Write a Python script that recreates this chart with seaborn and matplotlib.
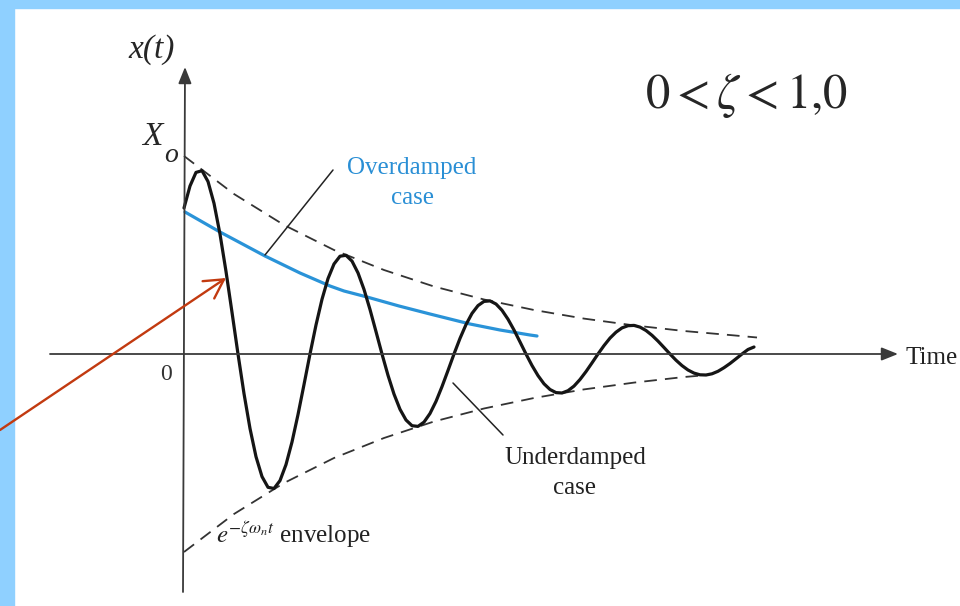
import matplotlib
matplotlib.use("Agg")
import matplotlib.pyplot as plt
import seaborn as sns
from matplotlib.patches import Rectangle

# underdamped response (time in px from the x(t) axis,
# displacement in px above the time axis)
t_under = list(range(0, 576, 6))
x_under = [146, 168, 181.6, 183.3, 172.5, 150.7, 119.9, 82.6, 41.7, 0,
           -39.6, -74.5, -102.7, -122.6, -133.3, -134.5, -126.6, -110.6, -88.0, -60.6,
           -30.6, 0, 29.0, 54.7, 75.4, 90.0, 97.8, 98.7, 92.9, 81.1,
           64.6, 44.5, 22.4, 0, -21.3, -40.1, -55.3, -66.0, -71.7, -72.4,
           -68.1, -59.5, -47.4, -32.6, -16.5, 0, 15.6, 29.4, 40.6, 48.4,
           52.6, 53.1, 50.0, 43.7, 34.8, 24.0, 12.1, 0, -11.5, -21.6,
           -29.8, -35.5, -38.6, -39.0, -36.7, -32.1, -25.5, -17.6, -8.9, 0,
           8.4, 15.9, 21.8, 26.1, 28.3, 28.6, 26.9, 23.5, 18.7, 12.9,
           6.5, 0, -6.2, -11.6, -16.0, -19.1, -20.8, -21.0, -19.8, -17.3,
           -13.7, -9.5, -4.8, 0, 4.5, 7.0]

# overdamped case (blue)
t_over = [1, 36, 81, 116, 146, 160, 183, 215, 246, 266, 286, 316, 346, 353]
x_over = [142, 122, 98, 81, 68, 63, 57, 48, 40, 35, 30, 24, 19, 18]

# envelope e^{-zeta w t}
t_env_up = [0, 50, 100, 150, 200, 250, 300, 350, 400, 450, 500, 550, 573]
x_env_up = [198, 160, 129, 104, 84, 67.5, 54.5, 44, 35.4, 28.6, 23, 18.6, 16.5]
t_env_lo = [0, 50, 100, 150, 200, 250, 300, 350, 400, 450, 500, 524]
x_env_lo = [-198, -160, -129, -104, -84, -67.5, -54.5, -44, -35.4, -28.6, -23, -21]

sns.set_theme(style="white")
plt.rcParams["font.family"] = ["Liberation Serif", "DejaVu Serif"]
plt.rcParams["mathtext.fontset"] = "stix"

fig = plt.figure(figsize=(9.6, 6.06), dpi=100)
ax = fig.add_axes([0, 0, 1, 1])
ax.set_xlim(-184, 776)
ax.set_ylim(-252, 354)
ax.axis("off")
ax.patch.set_visible(False)

# light blue frame on top and left
fig.patches.append(Rectangle((0, 1 - 8 / 606), 1, 8 / 606, transform=fig.transFigure,
                             color="#8fd0ff", zorder=-5))
fig.patches.append(Rectangle((0, 0), 14 / 960, 1, transform=fig.transFigure,
                             color="#8fd0ff", zorder=-5))

axis_col = "#3a3a3a"
# time axis and x(t) axis with arrows
ax.annotate("", xy=(714, 0), xytext=(-134, 0),
            arrowprops=dict(arrowstyle="-|>,head_length=0.5,head_width=0.2",
                            mutation_scale=20, lw=1.3, color=axis_col,
                            shrinkA=0, shrinkB=0))
ax.annotate("", xy=(1, 287), xytext=(-1, -238),
            arrowprops=dict(arrowstyle="-|>,head_length=0.5,head_width=0.2",
                            mutation_scale=20, lw=1.3, color=axis_col,
                            shrinkA=0, shrinkB=0))

dash = (0, (7, 4.5))
sns.lineplot(x=t_env_up, y=x_env_up, ax=ax, color="#333333", lw=1.3, linestyle=dash)
sns.lineplot(x=t_env_lo, y=x_env_lo, ax=ax, color="#333333", lw=1.3, linestyle=dash)
sns.lineplot(x=t_over, y=x_over, ax=ax, color="#2a93d8", lw=2.3)
sns.lineplot(x=t_under, y=x_under, ax=ax, color="#151515", lw=2.3,
             solid_joinstyle="round")

# leader lines
ax.plot([149, 81], [184, 99], color="#222222", lw=1.1)
ax.plot([269, 319], [-29, -81], color="#222222", lw=1.1)

# red pointer arrow
ax.annotate("", xy=(42, 76), xytext=(-184, -76),
            arrowprops=dict(arrowstyle="->,head_length=0.45,head_width=0.25",
                            mutation_scale=30, lw=1.7, color="#c23a10",
                            shrinkA=0, shrinkB=0), annotation_clip=False)

# texts
ax.text(-32, 304, "x(t)", fontsize=24, style="italic", ha="center", va="center")
ax.text(-32, 217, "X", fontsize=24, style="italic", ha="center", va="center")
ax.text(-13, 199, "o", fontsize=20, style="italic", ha="center", va="center")
ax.text(-18, -21, "0", fontsize=17, ha="center", va="center", color="#333333")
ax.text(721, -4, "Time", fontsize=18, ha="left", va="center", color="#222222")
ax.text(228, 171, "Overdamped\ncase", fontsize=18, ha="center", va="center",
        color="#2a8fd5", linespacing=1.45)
ax.text(391, -119, "Underdamped\ncase", fontsize=18, ha="center", va="center",
        color="#222222", linespacing=1.45)
ax.text(32, -181, r"$e^{-\zeta\omega_n t}$ envelope", fontsize=18, ha="left",
        va="center", color="#222222")
ax.text(562, 259, r"$0 < \zeta < 1{,}0$", fontsize=35, ha="center", va="center")

fig.savefig("out.png", dpi=100)
